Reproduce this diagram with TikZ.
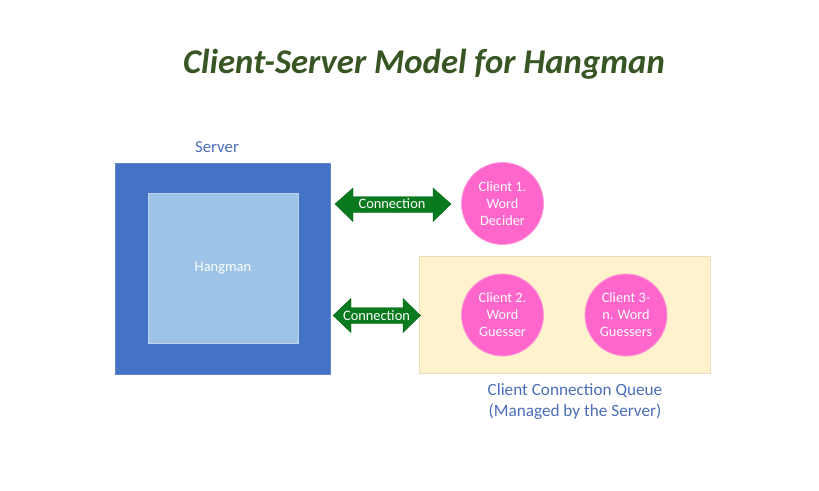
\documentclass[tikz,border=0pt]{standalone}
\usepackage{fontspec}
\setmainfont{Carlito}
\definecolor{titlegreen}{HTML}{375623}
\definecolor{outerblue}{HTML}{4472C4}
\definecolor{innerblue}{HTML}{9DC3E6}
\definecolor{labelblue}{HTML}{4A6EB8}
\definecolor{arrowgreen}{HTML}{0A7A1E}
\definecolor{pinkfill}{HTML}{FF66CC}
\definecolor{pinkline}{HTML}{FF9ADB}
\definecolor{queuefill}{HTML}{FFF2CC}
\definecolor{queueline}{HTML}{E9DFC0}
\tikzset{
  client/.style={circle, fill=pinkfill, draw=pinkline, line width=0.8pt, minimum size=82pt, inner sep=0pt,
     text=white!95!pink, font=\fontsize{14.3}{17}\selectfont, align=center},
  conntext/.style={text=white, font=\fontsize{14.4}{15}\selectfont, inner sep=0pt},
  bluelabel/.style={text=labelblue, font=\fontsize{17.2}{21}\selectfont, align=center, inner sep=0pt},
  arrowfill/.style={fill=arrowgreen, draw=arrowgreen!80!black, line width=0.4pt},
}
\begin{document}
\begin{tikzpicture}[x=1pt,y=-1pt]
\useasboundingbox (0,0) rectangle (819,490);
% title
\node[text=titlegreen, font=\fontsize{34.7}{40}\selectfont\bfseries\itshape] (title) at (424,64) {Client-Server Model for Hangman};
% server
\node[text=labelblue, font=\fontsize{16.8}{21}\selectfont, inner sep=0pt] (serverlbl) at (217,147) {Server};
\path[fill=outerblue, draw=outerblue!85!white, line width=0.5pt] (115.5,163.5) rectangle (330.5,374.5);
\node[fill=innerblue, draw=innerblue!70!white, line width=0.6pt, minimum width=150pt, minimum height=150pt, inner sep=0pt,
      text=white, font=\fontsize{14.5}{15}\selectfont] (hangman) at (223,268.5) {Hangman};
\node[inner sep=0pt, minimum width=215pt, minimum height=211pt] (server) at (223,269) {};
% queue
\node[fill=queuefill, draw=queueline, line width=1.2pt, minimum width=291pt, minimum height=117pt, inner sep=0pt] (queue) at (565,315) {};
\node[bluelabel] (queuelbl) at (575,401.5) {Client Connection Queue\\(Managed by the Server)};
% clients
\node[client] (c1) at (502.5,203.5) {Client 1.\\Word\\Decider};
\node[client] (c2) at (502.5,315) {Client 2.\\Word\\Guesser};
\node[client] (c3) at (626,315) {Client 3-\\n. Word\\Guessers};
% arrow 1
\path[arrowfill] (335,204) -- (353,188) -- (353,196.5) -- (433,196.5) -- (433,188) -- (451,204)
   -- (433,221.5) -- (433,212.5) -- (353,212.5) -- (353,221.5) -- cycle;
\node[conntext] (a1) at (392,204) {Connection};
% arrow 2
\path[arrowfill] (333,315.5) -- (351,298.5) -- (351,307.5) -- (403,307.5) -- (403,298.5) -- (420.5,315.5)
   -- (403,332.5) -- (403,323.5) -- (351,323.5) -- (351,332.5) -- cycle;
\node[conntext] (a2) at (376.5,315.5) {Connection};
\end{tikzpicture}
\end{document}
